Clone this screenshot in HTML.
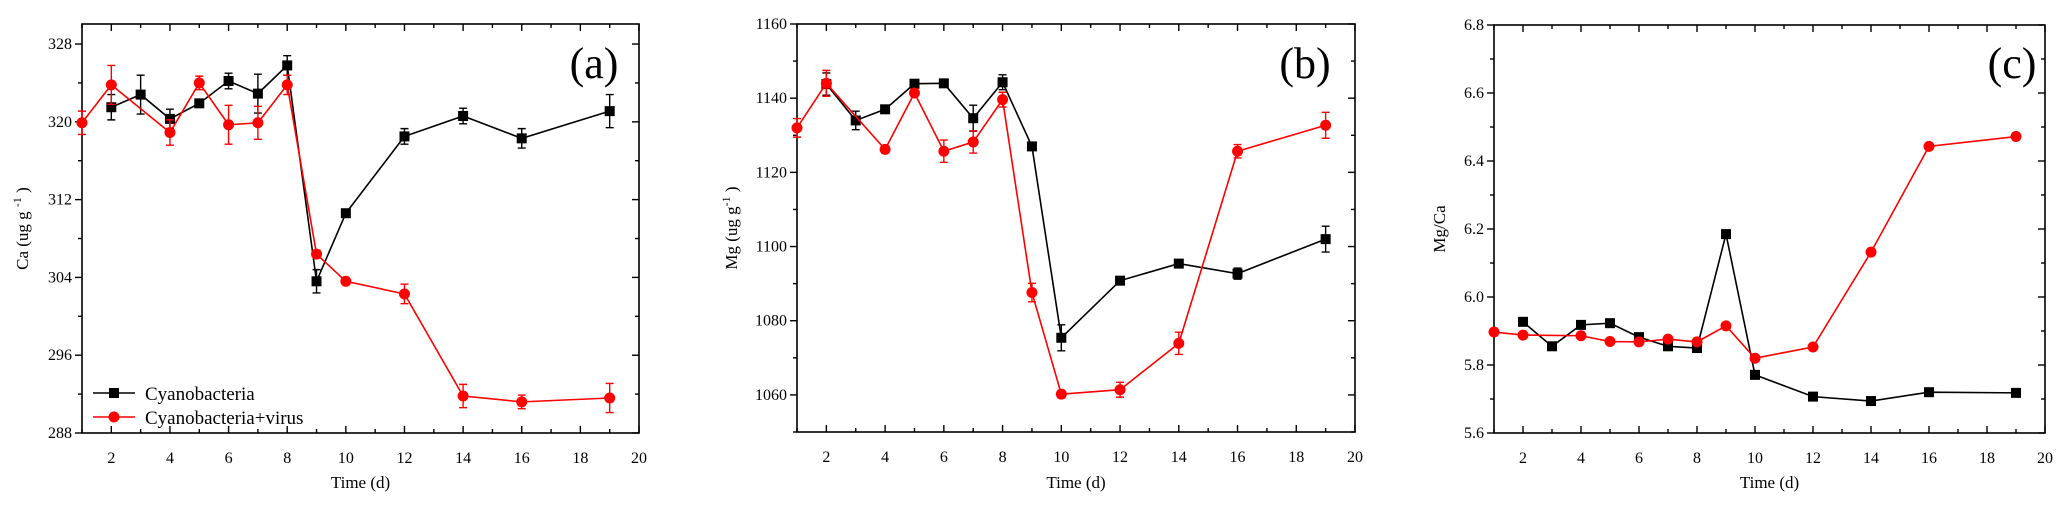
<!DOCTYPE html>
<html><head><meta charset="utf-8"><style>
body{margin:0;background:#fff;}
svg{display:block;font-family:"Liberation Serif",serif;}
</style></head><body>
<svg id="fig" width="2067" height="511" viewBox="0 0 2067 511" xmlns="http://www.w3.org/2000/svg"></svg>
<script>
const days = [1,2,3,4,5,6,7,8,9,10,12,14,16,19];
const caBlackX = [2,3,4,5,6,7,8,9,10,12,14,16,19];
const caBlack = [321.5,322.8,320.3,321.9,324.2,322.9,325.8,303.6,310.6,318.5,320.6,318.3,321.1];
const caBlackErr = [1.3,2,1,0.3,0.8,2,1,1.2,0.3,0.8,0.8,1,1.7];
const caRedX = [1,2,4,5,6,7,8,9,10,12,14,16,19];
const caRed = [319.9,323.8,318.9,324.0,319.7,319.9,323.8,306.4,303.6,302.3,291.8,291.2,291.6];
const caRedErr = [1.2,2,1.3,0.7,2,1.7,1,0.4,0.3,1,1.2,0.7,1.5];
const mgBlackX = [2,3,4,5,6,7,8,9,10,12,14,16,19];
const mgBlack = [1143.8,1134,1137,1143.9,1144,1134.6,1144.3,1127,1075.4,1090.8,1095.4,1092.7,1102];
const mgBlackErr = [3,2.5,0.5,0.5,0.5,3.5,2,0.5,3.5,0.5,0.8,1.5,3.5];
const mgRedX = [1,2,4,5,6,7,8,9,10,12,14,16,19];
const mgRed = [1132,1144,1126.2,1141.4,1125.7,1128.2,1139.6,1087.6,1060.2,1061.4,1073.9,1125.7,1132.7];
const mgRedErr = [2.5,3.5,1,1,3,3,2,2.5,1,2,3,1.8,3.5];
const ratioBlackX = [2,3,4,5,6,7,8,9,10,12,14,16,19];
const ratioBlack = [5.927,5.855,5.918,5.923,5.882,5.855,5.85,6.185,5.771,5.707,5.694,5.72,5.718];
const ratioRedX = [1,2,4,5,6,7,8,9,10,12,14,16,19];
const ratioRed = [5.897,5.888,5.886,5.869,5.868,5.876,5.868,5.915,5.82,5.853,6.132,6.443,6.472];
const xTicks = [2,4,6,8,10,12,14,16,18,20];
const caTicks = [288,296,304,312,320,328];
const mgTicks = [1060,1080,1100,1120,1140,1160];
const ratioTicks = [5.6,5.8,6.0,6.2,6.4,6.6,6.8];

const NS="http://www.w3.org/2000/svg";
const svg=document.getElementById('fig');
function mk(tag,attrs,parent){const e=document.createElementNS(NS,tag);for(const k in attrs)e.setAttribute(k,attrs[k]);(parent||svg).appendChild(e);return e;}

function panel(o){
  const g=mk('g',{});
  
  
  const sx=v=>o.L+(v-1)/(20-1)*(o.R-o.L);
  const sy=v=>o.B-(v-o.ymin)/(o.ymax-o.ymin)*(o.B-o.T);
  const frame=mk('rect',{x:o.L,y:o.T,width:o.R-o.L,height:o.B-o.T,fill:'none',stroke:'#000','stroke-width':1.6},g);
  
  
  for(let x=1;x<=20;x++){
    const len=(x%2===0)?7:4;
    mk('line',{x1:sx(x),x2:sx(x),y1:o.B,y2:o.B-len,stroke:'#000','stroke-width':1.4},g);
    mk('line',{x1:sx(x),x2:sx(x),y1:o.T,y2:o.T+len,stroke:'#000','stroke-width':1.4},g);
  }
  xTicks.forEach(t=>{
    const tx=mk('text',{x:sx(t),y:o.B+30,'text-anchor':'middle','font-size':16},g);
    tx.textContent=t;
    
    
  });
  const st=o.ticks[1]-o.ticks[0];
  for(let v=o.ymin;v<=o.ymax+1e-9;v+=st/2){
    const major=o.ticks.some(t=>Math.abs(t-v)<1e-6);
    const len=major?7:4;
    mk('line',{x1:o.L,x2:o.L-len,y1:sy(v),y2:sy(v),stroke:'#000','stroke-width':1.4},g);
    mk('line',{x1:o.R,x2:o.R-len,y1:sy(v),y2:sy(v),stroke:'#000','stroke-width':1.4},g);
  }
  o.ticks.forEach(t=>{
    const ty=mk('text',{x:o.L-10,y:sy(t)+5,'text-anchor':'end','font-size':16},g);
    ty.textContent=o.fmt(t);
    
    
  });
  const xt=mk('text',{x:(o.L+o.R)/2,y:488,'text-anchor':'middle','font-size':17},g);
  xt.textContent='Time (d)';
  
  
  const yt=mk('text',{x:0,y:0,'text-anchor':'middle','font-size':17,transform:`translate(${o.ytx},${(o.T+o.B)/2}) rotate(-90)`},g);
  yt.innerHTML=o.ytitle;
  
  
  const lb=mk('text',{x:o.labX,y:78,'text-anchor':'middle','font-size':44},g);
  lb.textContent=o.label;
  
  
  function series(xs,ys,errs,color,shape,nm){
    const sg=mk('g',{},g);
    
    
    const pts=xs.map((x,i)=>sx(x)+','+sy(ys[i])).join(' ');
    mk('polyline',{points:pts,fill:'none',stroke:color,'stroke-width':1.6},sg);
    xs.forEach((x,i)=>{
      const cx=sx(x),cy=sy(ys[i]);
      if(errs){
        const e=errs[i];
        const eb=mk('path',{d:`M${cx},${sy(ys[i]+e)}V${sy(ys[i]-e)}M${cx-4},${sy(ys[i]+e)}H${cx+4}M${cx-4},${sy(ys[i]-e)}H${cx+4}`,stroke:color,'stroke-width':1.4,fill:'none'},sg);
        
        
      }
      let m;
      if(shape==='sq') m=mk('rect',{x:cx-5,y:cy-5,width:10,height:10,fill:color},sg);
      else m=mk('circle',{cx:cx,cy:cy,r:5.5,fill:color},sg);
      
      
    });
  }
  series(o.bx,o.by,o.be,'#000','sq','series-cyanobacteria');
  series(o.rx,o.ry,o.re,'#ff0000','ci','series-cyanobacteria-virus');
}

panel({name:'panel-a-ca',L:82,R:639,T:24,B:433,ymin:288,ymax:330.06,ticks:caTicks,fmt:t=>t,
  ytx:28,ytitle:'Ca  (ug   g <tspan dy="-7" font-size="12">-1</tspan><tspan dy="7"> )</tspan>',label:'(a)',labX:594,
  bx:caBlackX,by:caBlack,be:caBlackErr,rx:caRedX,ry:caRed,re:caRedErr});
panel({name:'panel-b-mg',L:797,R:1355,T:24,B:432,ymin:1050,ymax:1160,ticks:mgTicks,fmt:t=>t,
  ytx:737,ytitle:'Mg  (ug   g<tspan dy="-7" font-size="12">-1</tspan><tspan dy="7"> )</tspan>',label:'(b)',labX:1305,
  bx:mgBlackX,by:mgBlack,be:mgBlackErr,rx:mgRedX,ry:mgRed,re:mgRedErr});
panel({name:'panel-c-mgca',L:1494,R:2045,T:25,B:433,ymin:5.6,ymax:6.8,ticks:ratioTicks,fmt:t=>t.toFixed(1),
  ytx:1445,ytitle:'Mg/Ca',label:'(c)',labX:2012,
  bx:ratioBlackX,by:ratioBlack,be:null,rx:ratioRedX,ry:ratioRed,re:null});

// legend in panel a
const lg=mk('g',{});


mk('line',{x1:93,x2:135,y1:393,y2:393,stroke:'#000','stroke-width':1.6},lg);
mk('rect',{x:109,y:388,width:10,height:10,fill:'#000'},lg);
const l1=mk('text',{x:145,y:400,'font-size':19},lg);l1.textContent='Cyanobacteria';


mk('line',{x1:93,x2:135,y1:417,y2:417,stroke:'#ff0000','stroke-width':1.6},lg);
mk('circle',{cx:114,cy:417,r:5.5,fill:'#ff0000'},lg);
const l2=mk('text',{x:145,y:424,'font-size':19},lg);l2.textContent='Cyanobacteria+virus';


</script>
</body></html>
